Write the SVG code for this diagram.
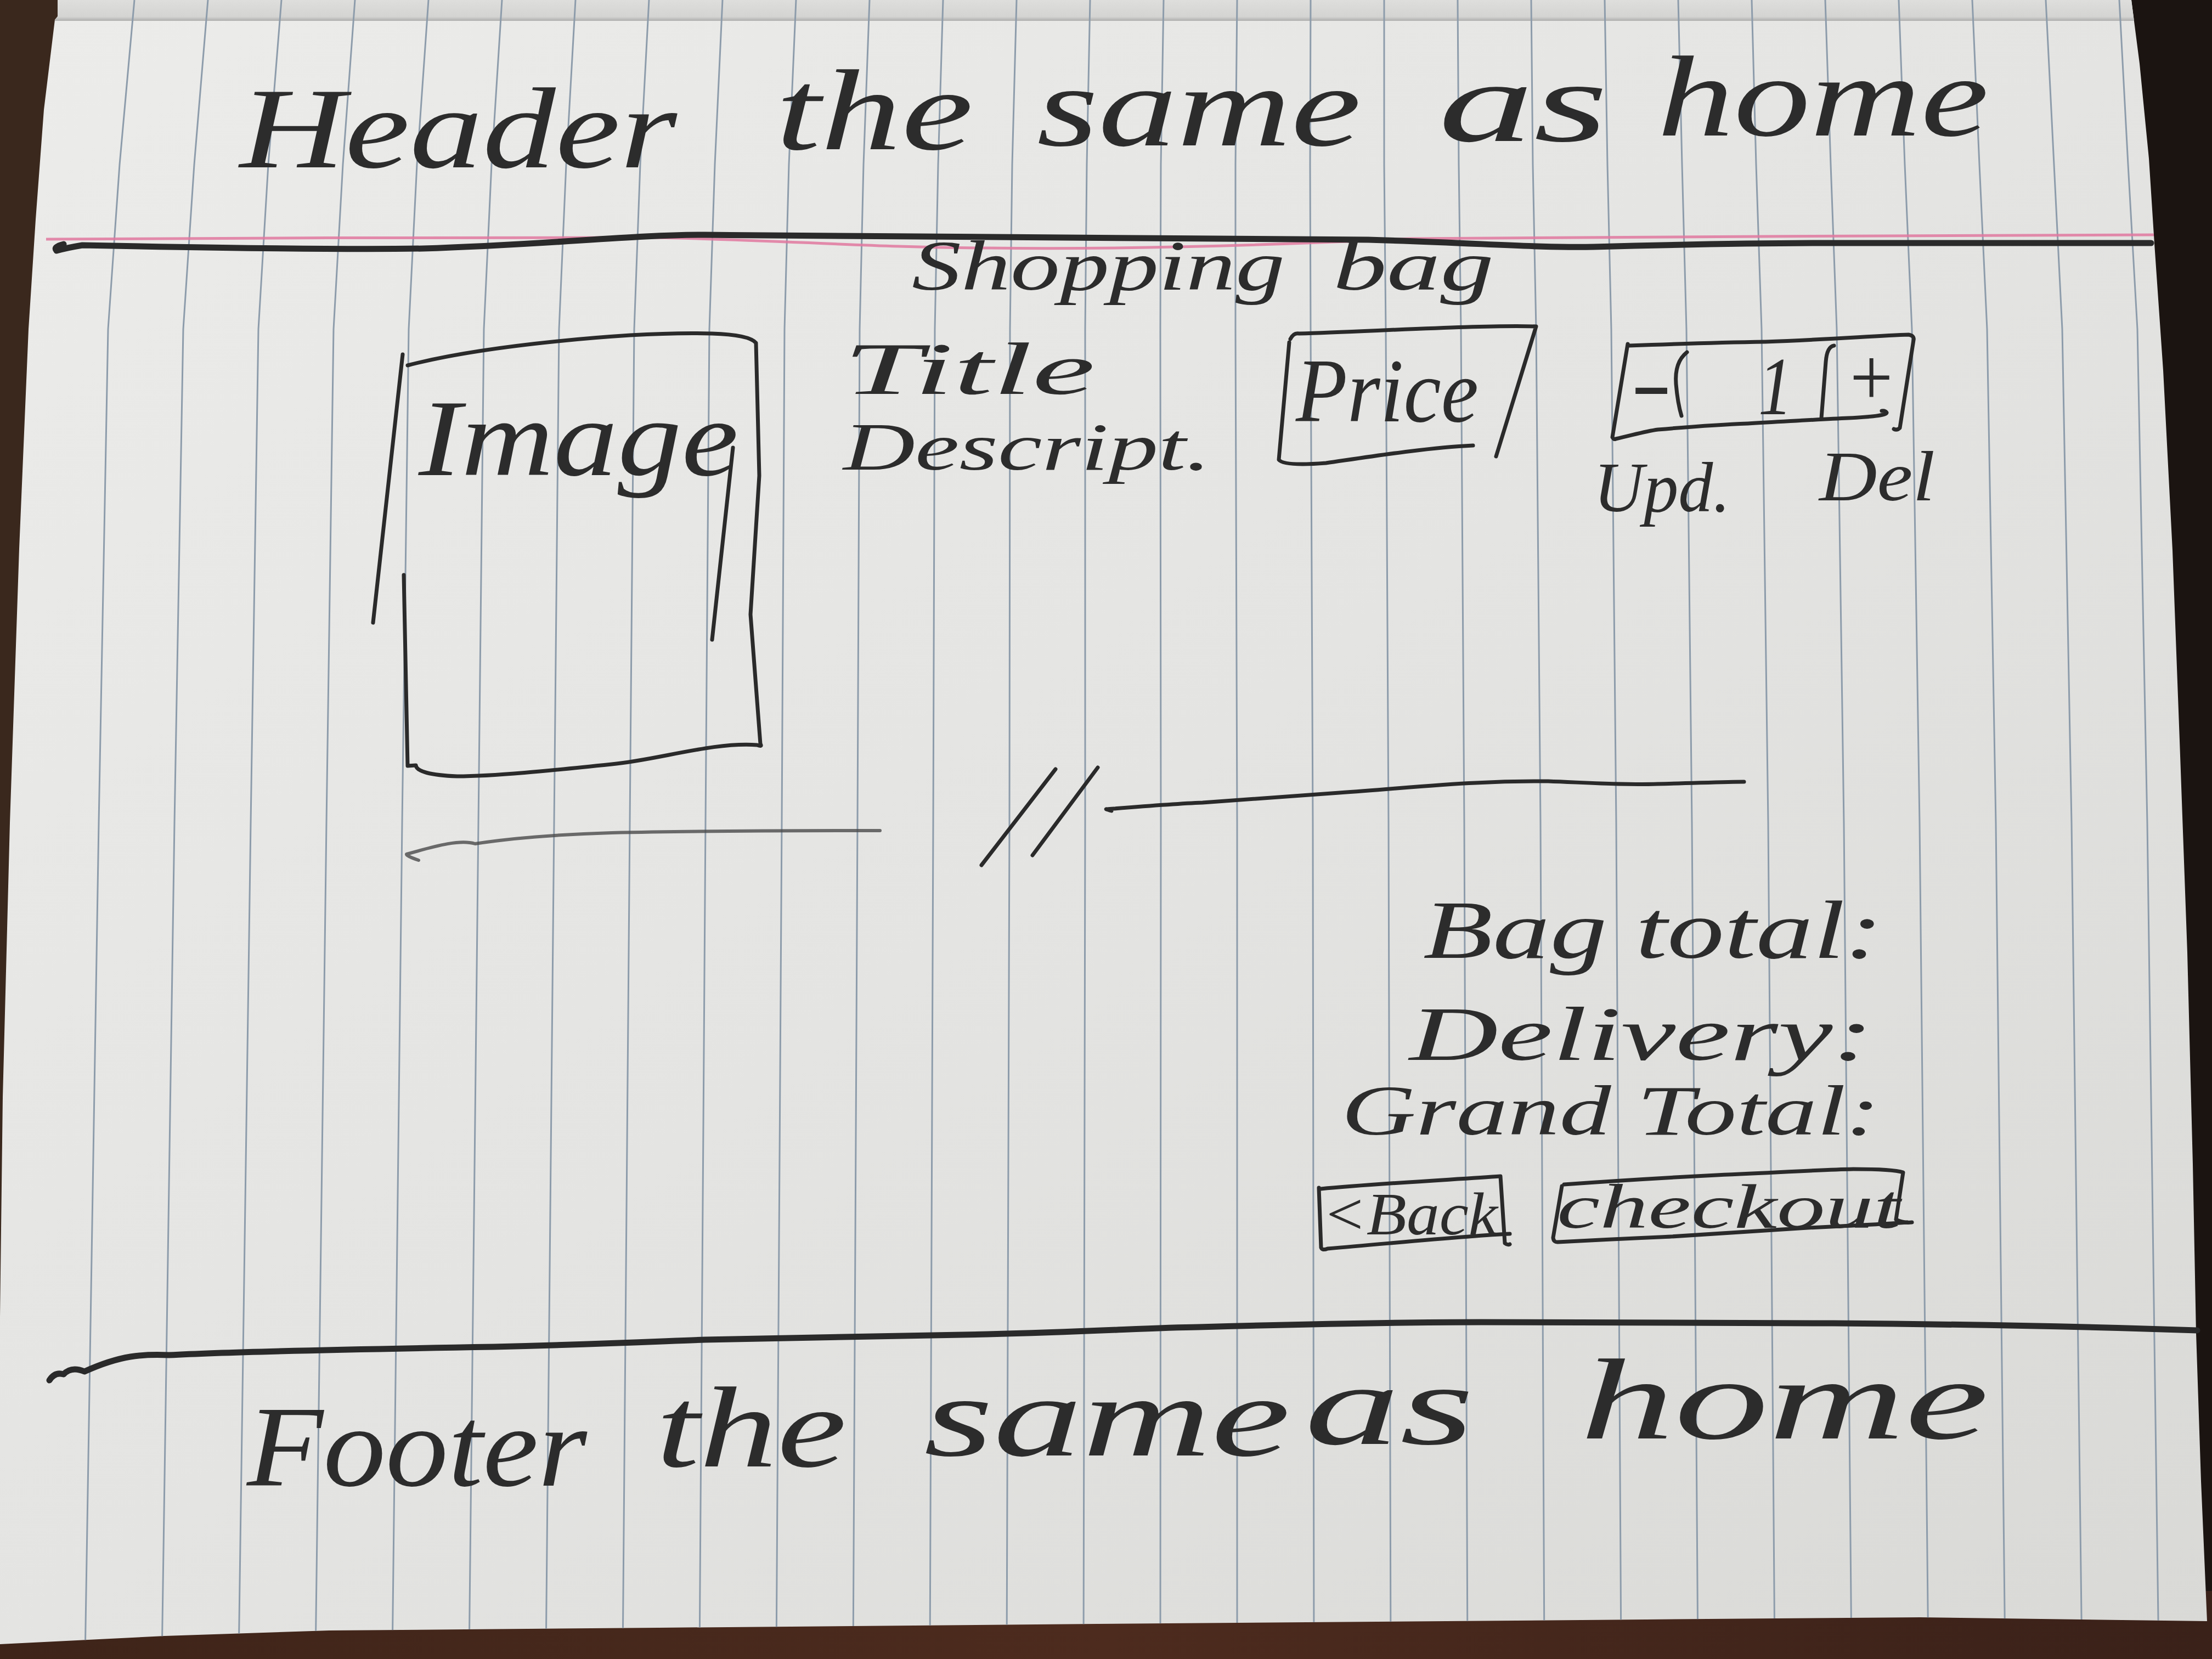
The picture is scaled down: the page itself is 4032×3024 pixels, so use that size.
<svg xmlns="http://www.w3.org/2000/svg" width="4032" height="3024" viewBox="0 0 4032 3024">
  <style>
    .pen { fill: none; stroke: #2a2a2a; stroke-width: 7; stroke-linecap: round; stroke-linejoin: round; }
    .thick { stroke-width: 11; }
    .faint { stroke: #4a4a4a; stroke-width: 6; opacity: 0.8; }
    .rule { fill: none; stroke: #8d9cab; stroke-width: 3; }
    .hand { font-family: "Liberation Serif", "DejaVu Serif", serif; font-style: italic; fill: #2c2c2c; }
  </style>
  <defs>
    <linearGradient id="paperShade" x1="0" y1="0" x2="1" y2="1">
      <stop offset="0" stop-color="#ececea"/>
      <stop offset="0.5" stop-color="#e4e4e2"/>
      <stop offset="1" stop-color="#d9d9d6"/>
    </linearGradient>
    <linearGradient id="flapShade" x1="0" y1="0" x2="0" y2="1">
      <stop offset="0" stop-color="#dededc"/>
      <stop offset="0.8" stop-color="#d4d4d2"/>
      <stop offset="1" stop-color="#aeaead"/>
    </linearGradient>
    <linearGradient id="woodBottom" x1="0" y1="0" x2="1" y2="0">
      <stop offset="0" stop-color="#3e2419"/>
      <stop offset="0.5" stop-color="#4d2b1e"/>
      <stop offset="1" stop-color="#3a2119"/>
    </linearGradient>
    <clipPath id="page">
      <polygon id="pageOutline" points="105,0 3885,0 3900,116 3917,289 3927,444 3943,675 3960,1003 3973,1350 3987,1736 3997,2122 4003,2430 4012,2700 4023,2955 3500,2948 3000,2952 2000,2960 1200,2967 600,2972 300,2982 0,2997 0,2400 5,2000 18,1500 35,1000 52,600 65,400 80,200 100,36 105,30"/>
    </clipPath>
  </defs>

  <!-- desk -->
  <g id="desk">
    <rect x="0" y="0" width="4032" height="3024" fill="#1b1411"/>
    <rect x="0" y="0" width="140" height="2600" fill="#3a281d"/>
    <rect x="0" y="2900" width="4032" height="124" fill="url(#woodBottom)"/>
  </g>

  <!-- sheet of lined paper -->
  <g id="paper" clip-path="url(#page)">
    <rect x="0" y="0" width="4032" height="3024" fill="url(#paperShade)"/>
    <rect x="0" y="0" width="4032" height="38" fill="url(#flapShade)"/>
    <g id="ruling">
      <polyline class="rule" points="245,0 218,300 197,600 180,1500 155,3024"/>
      <polyline class="rule" points="379,0 354,300 334,600 318,1500 295,3024"/>
      <polyline class="rule" points="513,0 489,300 471,600 457,1500 435,3024"/>
      <polyline class="rule" points="647,0 625,300 608,600 595,1500 575,3024"/>
      <polyline class="rule" points="781,0 760,300 745,600 733,1500 715,3024"/>
      <polyline class="rule" points="915,0 896,300 882,600 872,1500 855,3024"/>
      <polyline class="rule" points="1049,0 1032,300 1019,600 1010,1500 995,3024"/>
      <polyline class="rule" points="1183,0 1167,300 1156,600 1148,1500 1135,3024"/>
      <polyline class="rule" points="1317,0 1303,300 1293,600 1286,1500 1275,3024"/>
      <polyline class="rule" points="1451,0 1438,300 1430,600 1425,1500 1415,3024"/>
      <polyline class="rule" points="1585,0 1574,300 1567,600 1563,1500 1555,3024"/>
      <polyline class="rule" points="1719,0 1710,300 1704,600 1701,1500 1695,3024"/>
      <polyline class="rule" points="1853,0 1845,300 1841,600 1840,1500 1835,3024"/>
      <polyline class="rule" points="1987,0 1981,300 1978,600 1978,1500 1975,3024"/>
      <polyline class="rule" points="2121,0 2116,300 2115,600 2116,1500 2115,3024"/>
      <polyline class="rule" points="2255,0 2252,300 2252,600 2255,1500 2255,3024"/>
      <polyline class="rule" points="2389,0 2388,300 2389,600 2393,1500 2395,3024"/>
      <polyline class="rule" points="2523,0 2523,300 2526,600 2531,1500 2535,3024"/>
      <polyline class="rule" points="2657,0 2659,300 2663,600 2669,1500 2675,3024"/>
      <polyline class="rule" points="2791,0 2794,300 2800,600 2808,1500 2815,3024"/>
      <polyline class="rule" points="2925,0 2930,300 2937,600 2946,1500 2955,3024"/>
      <polyline class="rule" points="3059,0 3066,300 3074,600 3084,1500 3095,3024"/>
      <polyline class="rule" points="3193,0 3201,300 3211,600 3223,1500 3235,3024"/>
      <polyline class="rule" points="3327,0 3337,300 3348,600 3361,1500 3375,3024"/>
      <polyline class="rule" points="3461,0 3472,300 3485,600 3499,1500 3515,3024"/>
      <polyline class="rule" points="3595,0 3608,300 3622,600 3638,1500 3655,3024"/>
      <polyline class="rule" points="3729,0 3744,300 3759,600 3776,1500 3795,3024"/>
      <polyline class="rule" points="3863,0 3879,300 3896,600 3914,1500 3935,3024"/>
    </g>
    <!-- printed margin line -->
    <path d="M84,436 C400,434 900,432 1183,433 C1400,436 1600,452 1800,452 C2050,455 2300,448 2571,435 C3000,431 3500,430 3930,428" fill="none" stroke="#e0789f" stroke-width="5" opacity="0.85"/>
  </g>

  <!-- page header -->
  <g id="header">
    <text class="hand" font-size="210"><tspan x="437" y="305" textLength="797" lengthAdjust="spacingAndGlyphs">Header</tspan> <tspan x="1414" y="272" textLength="360" lengthAdjust="spacingAndGlyphs">the</tspan> <tspan x="1890" y="265" textLength="591" lengthAdjust="spacingAndGlyphs">same</tspan> <tspan x="2622" y="257" textLength="309" lengthAdjust="spacingAndGlyphs">as</tspan> <tspan x="3021" y="247" textLength="604" lengthAdjust="spacingAndGlyphs">home</tspan></text>
  </g>

  <!-- separators -->
  <g id="connectors">
    <path class="pen thick" d="M116,445 Q96,450 103,457 Q120,452 150,447 C300,450 600,456 771,453 C1000,446 1150,428 1285,428 C1600,432 1900,434 2494,437 C2700,443 2800,452 2905,450 C3050,446 3200,443 3342,443 C3600,442 3800,443 3921,443"/>
    <path class="pen thick" d="M90,2516 Q100,2500 116,2505 Q130,2490 154,2500 C220,2470 260,2468 308,2470 C400,2465 600,2460 900,2455 C1100,2450 1200,2445 1285,2442 C1500,2438 1700,2435 1800,2432 C2000,2427 2100,2420 2185,2419 C2400,2413 2550,2410 2700,2410 C3000,2410 3200,2412 3342,2412 C3600,2414 3800,2418 4005,2425"/>
    <!-- divider under the item row -->
    <path class="pen faint" d="M763,1568 Q740,1560 741,1557 C800,1540 840,1530 866,1538 C950,1525 1050,1520 1115,1518 C1250,1515 1450,1514 1604,1514"/>
    <path class="pen" stroke-width="5" d="M1924,1402 L1789,1577 M2001,1399 L1882,1559"/>
    <path class="pen" d="M2026,1478 Q2012,1474 2018,1475 C2080,1470 2140,1465 2192,1463 C2300,1455 2380,1450 2441,1445 C2550,1437 2620,1430 2690,1427 C2760,1423 2800,1424 2822,1424 C2900,1427 2960,1431 3021,1429 C3100,1427 3150,1425 3179,1425"/>
  </g>

  <g id="page-title">
    <text class="hand" font-size="130"><tspan x="1662" y="528" textLength="680" lengthAdjust="spacingAndGlyphs">Shopping</tspan> <tspan x="2430" y="528" textLength="293" lengthAdjust="spacingAndGlyphs">bag</tspan></text>
  </g>

  <!-- product image placeholder -->
  <g id="item-image">
    <path class="pen" d="M743,666 C880,630 1150,604 1298,608 Q1365,610 1378,625 L1384,867 L1368,1120 L1386,1356 Q1390,1362 1380,1358 C1300,1352 1200,1385 1115,1393 C1000,1405 900,1415 833,1415 Q760,1412 758,1395 L743,1396 L736,1048"/>
    <path class="pen" stroke-width="5" d="M734,646 L680,1135"/>
    <path class="pen" stroke-width="5" d="M1336,816 L1298,1166"/>
    <text class="hand" x="763" y="866" font-size="200" textLength="583" lengthAdjust="spacingAndGlyphs">Image</text>
  </g>

  <g id="item-text">
    <text class="hand" x="1537" y="718" font-size="135" textLength="459" lengthAdjust="spacingAndGlyphs">Title</text>
    <text class="hand" x="1537" y="856" font-size="122" textLength="670" lengthAdjust="spacingAndGlyphs">Descript.</text>
  </g>

  <g id="item-price">
    <path class="pen" d="M2352,618 Q2358,606 2368,608 C2500,604 2700,592 2800,595 L2727,832"/>
    <path class="pen" d="M2350,624 L2331,838 Q2340,850 2417,844 C2500,832 2600,816 2685,812"/>
    <text class="hand" x="2362" y="768" font-size="165" textLength="333" lengthAdjust="spacingAndGlyphs">Price</text>
  </g>

  <g id="item-quantity">
    <path class="pen" d="M2969,630 C3050,627 3150,624 3218,623 C3330,619 3420,612 3479,610 Q3490,612 3488,620 L3463,780 Q3458,785 3452,782"/>
    <path class="pen" d="M2967,627 L2939,797 Q2942,802 2945,800 C2980,792 3000,786 3022,783 C3080,778 3130,774 3186,772 C3260,768 3320,764 3369,762 C3410,760 3440,757 3439,752 Q3436,748 3430,749"/>
    <path class="pen" stroke-width="6" d="M3075,642 Q3052,660 3055,700 Q3058,735 3065,758"/>
    <path class="pen" stroke-width="6" d="M3343,630 Q3330,632 3328,660 L3320,762"/>
    <text class="hand" x="2973" y="748" font-size="150" textLength="74" lengthAdjust="spacingAndGlyphs">-</text>
    <text class="hand" x="3205" y="755" font-size="150" textLength="62" lengthAdjust="spacingAndGlyphs">1</text>
    <text class="hand" x="3363" y="738" font-size="150" textLength="94" lengthAdjust="spacingAndGlyphs">+</text>
    <text class="hand" x="2905" y="932" font-size="130" textLength="249" lengthAdjust="spacingAndGlyphs">Upd.</text>
    <text class="hand" x="3316" y="912" font-size="130" textLength="211" lengthAdjust="spacingAndGlyphs">Del</text>
  </g>

  <g id="totals">
    <text class="hand" x="2594" y="1746" font-size="150" textLength="838" lengthAdjust="spacingAndGlyphs">Bag total:</text>
    <text class="hand" x="2569" y="1932" font-size="140" textLength="846" lengthAdjust="spacingAndGlyphs">Delivery:</text>
    <text class="hand" x="2445" y="2068" font-size="130" textLength="982" lengthAdjust="spacingAndGlyphs">Grand Total:</text>
  </g>

  <g id="button-back">
    <path class="pen" d="M2408,2167 C2500,2158 2650,2150 2735,2144 L2743,2266 Q2748,2270 2752,2268"/>
    <path class="pen" d="M2404,2165 L2408,2274 Q2410,2280 2420,2276 C2550,2265 2680,2252 2752,2249"/>
    <text class="hand" x="2410" y="2250" font-size="110" textLength="320" lengthAdjust="spacingAndGlyphs">&lt;Back</text>
  </g>

  <g id="button-checkout">
    <path class="pen" d="M2851,2159 C2950,2152 3050,2146 3129,2142 C3250,2137 3320,2132 3378,2131 C3430,2131 3460,2134 3469,2137 L3456,2223 Q3470,2230 3485,2228"/>
    <path class="pen" d="M2847,2162 L2831,2256 Q2832,2265 2840,2264 C2950,2258 3000,2256 3046,2254 C3150,2247 3230,2242 3295,2238 C3400,2233 3450,2230 3477,2228"/>
    <text class="hand" x="2838" y="2238" font-size="115" textLength="626" lengthAdjust="spacingAndGlyphs">checkout</text>
  </g>

  <!-- page footer -->
  <g id="footer">
    <text class="hand" font-size="210"><tspan x="450" y="2708" textLength="620" lengthAdjust="spacingAndGlyphs">Footer</tspan> <tspan x="1196" y="2673" textLength="347" lengthAdjust="spacingAndGlyphs">the</tspan> <tspan x="1684" y="2653" textLength="668" lengthAdjust="spacingAndGlyphs">same</tspan> <tspan x="2378" y="2632" textLength="309" lengthAdjust="spacingAndGlyphs">as</tspan> <tspan x="2880" y="2622" textLength="745" lengthAdjust="spacingAndGlyphs">home</tspan></text>
  </g>
</svg>
